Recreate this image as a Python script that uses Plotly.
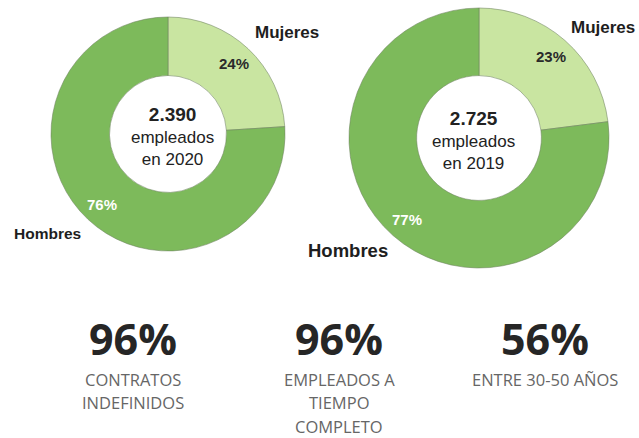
import math
import plotly.graph_objects as go

W, H = 639, 438

# ---------------- data ----------------
genders = ["Mujeres", "Hombres"]
share_2020 = [24, 76]
share_2019 = [23, 77]
employees_2020 = "2.390"
employees_2019 = "2.725"
years = ["2020", "2019"]

stat_values = ["96%", "96%", "56%"]
stat_labels = [
    ["CONTRATOS", "INDEFINIDOS"],
    ["EMPLEADOS A", "TIEMPO", "COMPLETO"],
    ["ENTRE 30-50 AÑOS"],
]

# ---------------- style / layout ----------------
C_H = "#7dba5b"
C_M = "#c9e5a1"
donuts = [
    dict(values=share_2020, total=employees_2020, year=years[0],
         cx=168, cy=134, r=117, hole=0.50,
         lab=dict(Mujeres=(287, 33, 17), Hombres=(47, 233, 15.5)),
         pct_r=0.83, pct_size=(15, 15), center=(172, 136)),
    dict(values=share_2019, total=employees_2019, year=years[1],
         cx=479, cy=138, r=130, hole=0.48,
         lab=dict(Mujeres=(603, 27, 17), Hombres=(348, 250, 18.5)),
         pct_r=0.84, pct_size=(15, 15), center=(473, 140)),
]


def px(x):
    return x / W


def py(y):
    return 1 - y / H


fig = go.Figure()
annotations = []

for d in donuts:
    fig.add_trace(go.Pie(
        labels=genders, values=d["values"], hole=d["hole"],
        sort=False, direction="clockwise", rotation=0,
        marker=dict(colors=[C_M, C_H], line=dict(color="rgba(110,130,95,0.55)", width=1)),
        textinfo="none", hoverinfo="label+percent", showlegend=False,
        domain=dict(x=[px(d["cx"] - d["r"]), px(d["cx"] + d["r"])],
                    y=[py(d["cy"] + d["r"]), py(d["cy"] - d["r"])]),
    ))
    # percentage labels positioned at the middle angle of each slice
    tot = sum(d["values"])
    start = 0.0
    for i, v in enumerate(d["values"]):
        frac = v / tot
        mid = (start + frac / 2) * 2 * math.pi
        start += frac
        rr = d["r"] * d["pct_r"]
        x = d["cx"] + rr * math.sin(mid)
        y = d["cy"] - rr * math.cos(mid)
        color = "#2a2a2a" if i == 0 else "#ffffff"
        annotations.append(dict(
            x=px(x), y=py(y), xref="paper", yref="paper", showarrow=False,
            text=f"<b>{round(frac * 100)}%</b>",
            font=dict(family="Liberation Sans", size=d["pct_size"][i], color=color),
            xanchor="center", yanchor="middle"))
    # outer labels
    for g in genders:
        lx, ly, fs = d["lab"][g]
        annotations.append(dict(
            x=px(lx), y=py(ly), xref="paper", yref="paper", showarrow=False,
            text=f"<b>{g}</b>",
            font=dict(family="Liberation Sans", size=fs, color="#1e1e1e"),
            xanchor="center", yanchor="middle"))
    # center text
    ccx, ccy = d["center"]
    annotations.append(dict(
        x=px(ccx), y=py(ccy), xref="paper", yref="paper", showarrow=False,
        text=(f"<span style='font-size:19px'><b>{d['total']}</b></span><br>"
              f"empleados<br>en {d['year']}"),
        font=dict(family="Liberation Sans", size=17, color="#222222"),
        xanchor="center", yanchor="middle"))

# bottom statistics
stat_x = [133, 339, 545]
for sx, val, lines in zip(stat_x, stat_values, stat_labels):
    annotations.append(dict(
        x=px(sx), y=py(338), xref="paper", yref="paper", showarrow=False,
        text=f"<b>{val}</b>",
        font=dict(family="Open Sans", size=43, color="#262626"),
        xanchor="center", yanchor="middle"))
    for j, line in enumerate(lines):
        annotations.append(dict(
            x=px(sx), y=py(379 + 23.5 * j), xref="paper", yref="paper", showarrow=False,
            text=line,
            font=dict(family="Open Sans", size=16.5, color="#666666"),
            xanchor="center", yanchor="middle"))

fig.update_layout(
    width=W, height=H,
    margin=dict(l=0, r=0, t=0, b=0),
    paper_bgcolor="white", plot_bgcolor="white",
    annotations=annotations,
)

fig.write_html(
    "out.html",
    config={"displayModeBar": False},
    post_script="document.body.style.margin='0';document.body.style.overflow='hidden';",
)
